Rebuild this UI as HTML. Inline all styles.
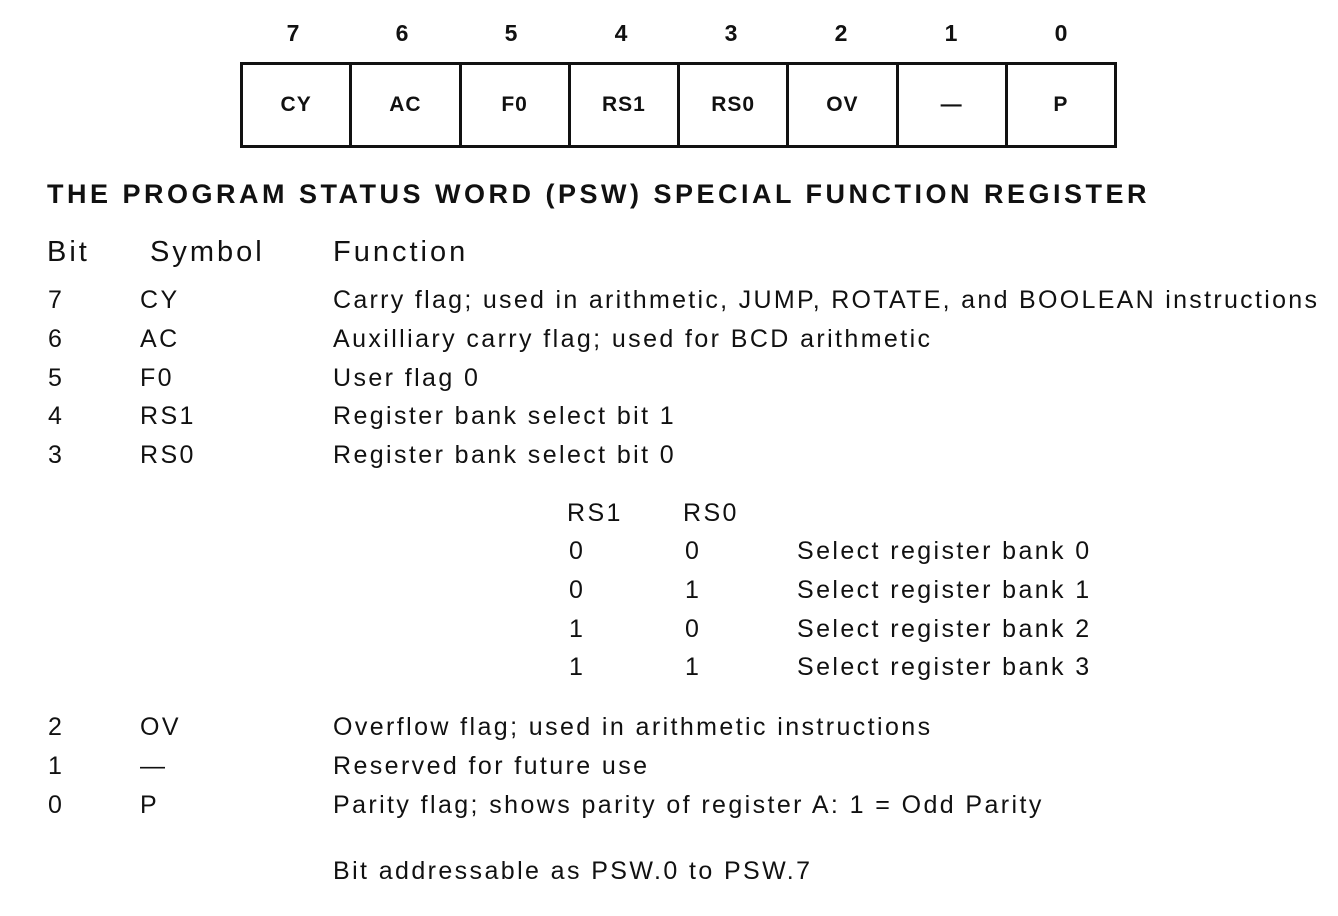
<!DOCTYPE html>
<html><head><meta charset="utf-8"><style>
body{margin:0;width:1338px;height:916px;background:#fff;position:relative;overflow:hidden;font-family:"Liberation Sans",sans-serif;color:#111}
.t{position:absolute;font-size:25px;line-height:30px;white-space:nowrap;letter-spacing:2.4px}
.d{position:absolute;font-size:23px;font-weight:bold;top:20px;width:40px;text-align:center}
.box{position:absolute;left:240px;top:62px;width:877px;height:86px;border:3px solid #111;box-sizing:border-box;display:flex}
.c{flex:1;border-right:3px solid #111;display:flex;align-items:center;justify-content:center;font-size:21px;font-weight:bold;letter-spacing:1px}
.c:last-child{border-right:none}
</style></head><body>
<div class="d" style="left:273px">7</div>
<div class="d" style="left:382px">6</div>
<div class="d" style="left:491px">5</div>
<div class="d" style="left:601px">4</div>
<div class="d" style="left:711px">3</div>
<div class="d" style="left:821px">2</div>
<div class="d" style="left:931px">1</div>
<div class="d" style="left:1041px">0</div>
<div class="box"><div class="c">CY</div><div class="c">AC</div><div class="c">F0</div><div class="c">RS1</div><div class="c">RS0</div><div class="c">OV</div><div class="c">—</div><div class="c">P</div></div>
<div class="t" style="left:47px;top:179px;font-size:27px;font-weight:bold;letter-spacing:3.5px">THE PROGRAM STATUS WORD (PSW) SPECIAL FUNCTION REGISTER</div>
<div class="t" style="left:47px;top:237px;font-size:29px;letter-spacing:3px">Bit</div>
<div class="t" style="left:150px;top:237px;font-size:29px;letter-spacing:3px">Symbol</div>
<div class="t" style="left:333px;top:237px;font-size:29px;letter-spacing:3px">Function</div>

<div class="t" style="left:48px;top:285px">7</div><div class="t" style="left:140px;top:285px">CY</div><div class="t" style="left:333px;top:285px;letter-spacing:2.3px">Carry flag; used in arithmetic, JUMP, ROTATE, and BOOLEAN instructions</div>
<div class="t" style="left:48px;top:324px">6</div><div class="t" style="left:140px;top:324px">AC</div><div class="t" style="left:333px;top:324px">Auxilliary carry flag; used for BCD arithmetic</div>
<div class="t" style="left:48px;top:363px">5</div><div class="t" style="left:140px;top:363px">F0</div><div class="t" style="left:333px;top:363px">User flag 0</div>
<div class="t" style="left:48px;top:401px">4</div><div class="t" style="left:140px;top:401px">RS1</div><div class="t" style="left:333px;top:401px">Register bank select bit 1</div>
<div class="t" style="left:48px;top:440px">3</div><div class="t" style="left:140px;top:440px">RS0</div><div class="t" style="left:333px;top:440px">Register bank select bit 0</div>

<div class="t" style="left:567px;top:498px">RS1</div><div class="t" style="left:683px;top:498px">RS0</div>
<div class="t" style="left:569px;top:536px">0</div><div class="t" style="left:685px;top:536px">0</div><div class="t" style="left:797px;top:536px">Select register bank 0</div>
<div class="t" style="left:569px;top:575px">0</div><div class="t" style="left:685px;top:575px">1</div><div class="t" style="left:797px;top:575px">Select register bank 1</div>
<div class="t" style="left:569px;top:614px">1</div><div class="t" style="left:685px;top:614px">0</div><div class="t" style="left:797px;top:614px">Select register bank 2</div>
<div class="t" style="left:569px;top:652px">1</div><div class="t" style="left:685px;top:652px">1</div><div class="t" style="left:797px;top:652px">Select register bank 3</div>

<div class="t" style="left:48px;top:712px">2</div><div class="t" style="left:140px;top:712px">OV</div><div class="t" style="left:333px;top:712px">Overflow flag; used in arithmetic instructions</div>
<div class="t" style="left:48px;top:751px">1</div><div class="t" style="left:140px;top:751px">—</div><div class="t" style="left:333px;top:751px">Reserved for future use</div>
<div class="t" style="left:48px;top:790px">0</div><div class="t" style="left:140px;top:790px">P</div><div class="t" style="left:333px;top:790px">Parity flag; shows parity of register A: 1 = Odd Parity</div>
<div class="t" style="left:333px;top:856px">Bit addressable as PSW.0 to PSW.7</div>
</body></html>
